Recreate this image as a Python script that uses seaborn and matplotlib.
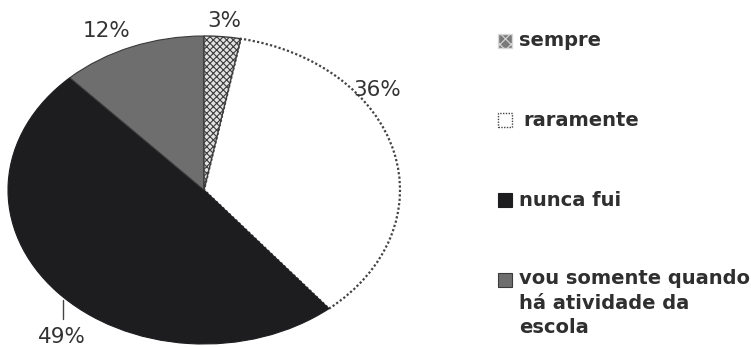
import matplotlib
matplotlib.use("Agg")
import matplotlib.pyplot as plt
from matplotlib.patches import Rectangle
from matplotlib.lines import Line2D
import seaborn as sns

# Survey answers, clockwise from 12 o'clock
categories = ["sempre", "raramente", "nunca fui",
              "vou somente quando\nhá atividade da\nescola"]
percentages = [3, 36, 49, 12]

sns.set_theme(style="white")
plt.rcParams["font.family"] = ["DejaVu Sans"]
plt.rcParams["hatch.linewidth"] = 0.8

W, H = 751, 347
fig = plt.figure(figsize=(W / 100, H / 100), dpi=100)
fig.patch.set_facecolor("white")


def fx(px):
    return px / W


def fy(py):
    return 1 - py / H


# Elliptical pie: the axes box is wider than tall and aspect is left free
ax = fig.add_axes([fx(8), fy(344), fx(392), 308 / H])
styles = [
    dict(facecolor="#e2e2e2", edgecolor="#3c3c3c", hatch="xxxxx", linewidth=1.0),
    dict(facecolor="white", edgecolor="#444444", linestyle=(0, (1, 1)), linewidth=1.6),
    dict(facecolor="#1d1d20", edgecolor="#1d1d20", linewidth=0.8),
    dict(facecolor="#6e6e6e", edgecolor="#3a3a3a", linewidth=0.8),
]
orders = [3, 1, 2, 2]
wedges, _ = ax.pie(percentages, startangle=90, counterclock=False, radius=1)
for w, st, z in zip(wedges, styles, orders):
    w.set(**st)
    w.set_zorder(z)
ax.set_aspect("auto")
ax.set_xlim(-1.0, 1.0)
ax.set_ylim(-1.0, 1.0)
ax.axis("off")

# Percentage labels
label_pos = [(224, 21), (377, 90), (62, 337), (107, 31)]
for (px, py), v in zip(label_pos, percentages):
    fig.text(fx(px), fy(py), f"{v}%", ha="center", va="center",
             fontsize=15.5, color="#333333")
fig.add_artist(Line2D([fx(63), fx(63)], [fy(300), fy(319)],
                      color="#444444", linewidth=1.0))

# Legend entries
legend_rows = [41, 120, 200, 280]
text_x = [519, 523, 519, 519]
for (i, lab), row, tx in zip(enumerate(categories), legend_rows, text_x):
    st = dict(styles[i])
    st["linewidth"] = min(st.get("linewidth", 1.0), 1.0)
    if i == 0:
        st["facecolor"] = "#7a7a7a"
        st["edgecolor"] = "#d8d8d8"
        st["hatch"] = "xxx"
    fig.add_artist(Rectangle((fx(498), fy(row + 7)), fx(14), 14 / H, **st))
    if "\n" in lab:
        fig.text(fx(tx), fy(row - 11), lab, ha="left", va="top",
                 fontsize=14, color="#2f2f2f", fontweight="bold", linespacing=1.38)
    else:
        fig.text(fx(tx), fy(row), lab, ha="left", va="center",
                 fontsize=14, color="#2f2f2f", fontweight="bold")

fig.savefig("out.png", dpi=100)
